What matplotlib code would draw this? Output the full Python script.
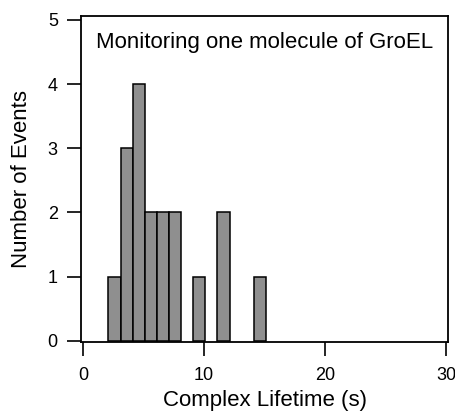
import matplotlib
matplotlib.use('Agg')
import matplotlib.pyplot as plt

plt.rcParams['font.family'] = ['Liberation Sans', 'DejaVu Sans']

# Histogram bins (left edges, seconds) and counts
bin_left = [2.1, 3.1, 4.1, 5.1, 6.1, 7.1, 9.1, 11.1, 14.1]
counts = [1, 3, 4, 2, 2, 2, 1, 2, 1]
bin_width = 1.0

xticks = [0, 10, 20, 30]
yticks = [0, 1, 2, 3, 4, 5]

fig = plt.figure(figsize=(4.55, 4.13), dpi=100)
ax = fig.add_axes([0.179, 0.172, 0.806, 0.789])

ax.bar(bin_left, counts, width=bin_width, align='edge',
       color='#8f8f8f', edgecolor='black', linewidth=1.1)

ax.set_xlim(-0.13, 30.15)
ax.set_ylim(-0.02, 5.06)
ax.set_xticks(xticks)
ax.set_yticks(yticks)
ax.tick_params(direction='out', length=10, width=1.2, labelsize=13)
ax.tick_params(axis='x', pad=8)
ax.tick_params(axis='y', pad=7)
for s in ax.spines.values():
    s.set_linewidth(1.3)

ax.set_xlabel('Complex Lifetime (s)', fontsize=16, labelpad=4)
ax.set_ylabel('Number of Events', fontsize=16, labelpad=11)
ax.text(0.5, 0.92, 'Monitoring one molecule of GroEL', transform=ax.transAxes,
        ha='center', va='center', fontsize=16)

fig.savefig('out.png', dpi=100)
